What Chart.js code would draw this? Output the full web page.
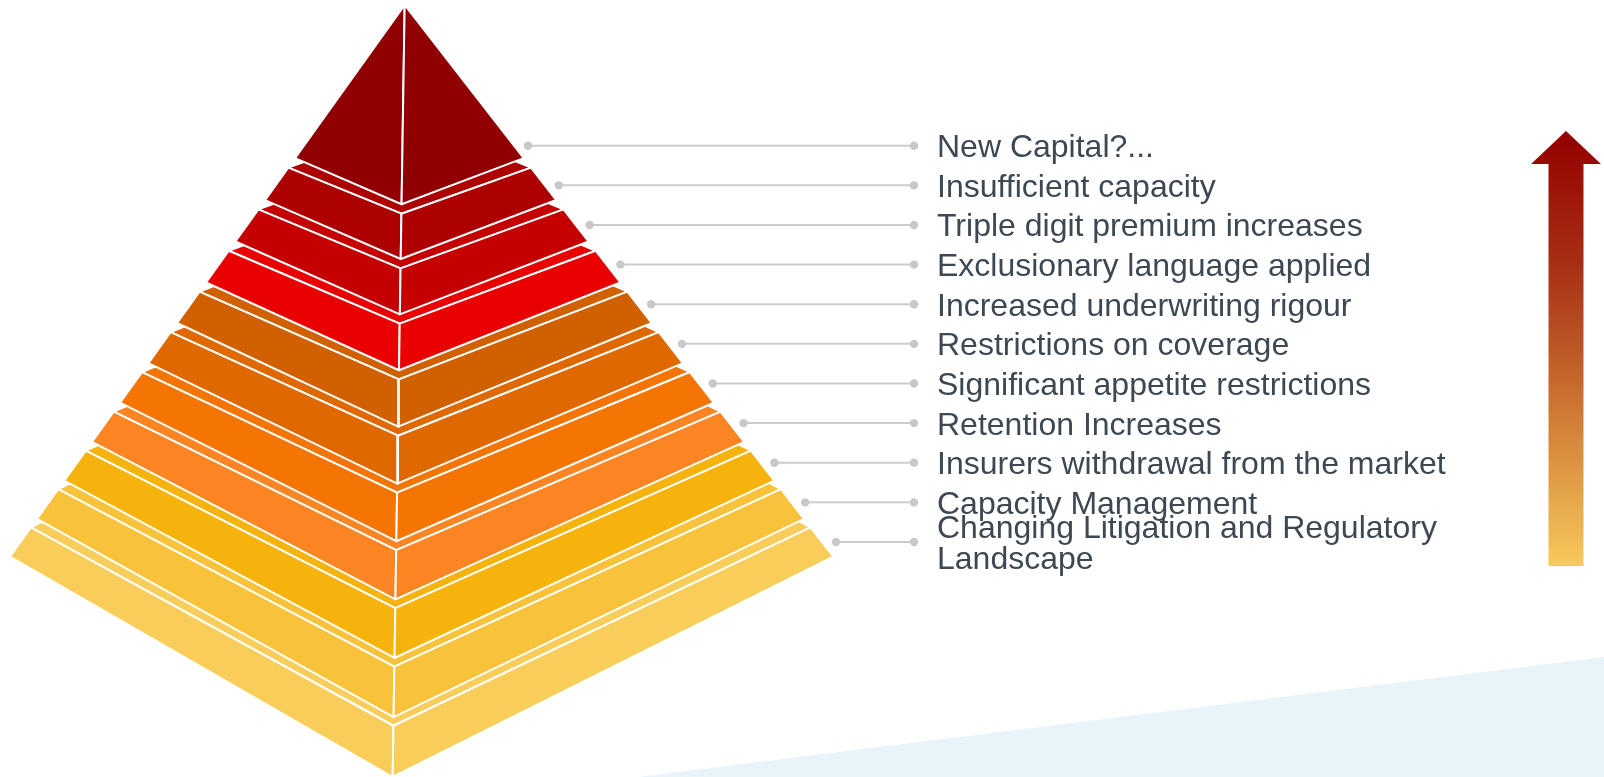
<!DOCTYPE html>
<html>
<head>
<meta charset="utf-8">
<script src="https://cdn.jsdelivr.net/npm/chart.js@4.4.1/dist/chart.umd.min.js"></script>
<style>
  html, body { margin: 0; padding: 0; background: #ffffff; }
  #wrap { position: relative; width: 1604px; height: 777px; }
</style>
</head>
<body>
<div id="wrap"><canvas id="pyramid"></canvas></div>
<script>
// Market pressure tiers, listed from the tip of the pyramid down to its base
const tierLabels = [
  'New Capital?...',
  'Insufficient capacity',
  'Triple digit premium increases',
  'Exclusionary language applied',
  'Increased underwriting rigour',
  'Restrictions on coverage',
  'Significant appetite restrictions',
  'Retention Increases',
  'Insurers withdrawal from the market',
  'Capacity Management',
  'Changing Litigation and Regulatory Landscape'
];

// Height of each tier along the pyramid (tip tier is the tall cap)
const tierHeights = [4.6, 1, 1, 1, 1, 1, 1, 1, 1, 1, 1];

const tierColors = [
  '#900000', '#ad0000', '#c50000', '#e90000',
  '#d16100', '#e06800', '#f47404', '#fb8522',
  '#f5b30c', '#f8c23a', '#f9cd5a'
];

// ---- 3D view of the square pyramid (turned 45 degrees, seen from above) ----
const tierGap = 0.29;        // separation between tiers, reveals each tier's top face
const perspA = 1.0926;       // vertical foreshortening of the side corners
const perspB = 0.00444;
const slopeRight = 0.777;    // run of the right ridge per unit of drop
const slopeLeft = 0.7156;    // run of the left ridge per unit of drop
const tiltBase = 0.2474;     // how far the front corner drops below the side corners
const tiltGrowth = 0.01635;  // the drop grows toward the base
const frontDrift = 0.01554;  // slight turn of the front ridge

function cornerY(level) { return level * (perspA - perspB * level); }
function frontDrop(face) { return face * (tiltBase + tiltGrowth * face); }
function leftPoint(level) { const y = cornerY(level); return { x: -slopeLeft * y, y: y }; }
function rightPoint(level) { const y = cornerY(level); return { x: slopeRight * y, y: y }; }
function frontPoint(level, face) {
  const y = cornerY(level) + frontDrop(face);
  return { x: -frontDrift * y, y: y };
}

// stack the tiers
const tiers = [];
let levelCursor = 0, faceCursor = 0;
tierHeights.forEach(h => {
  tiers.push({ top: levelCursor, bot: levelCursor + h, fTop: faceCursor, fBot: faceCursor + h });
  levelCursor += h + tierGap;
  faceCursor += h;
});
const base = tiers[tiers.length - 1];
const baseFront = frontPoint(base.bot, base.fBot);

// each face becomes its own closed outline
function faceSet(points, color, order) {
  return {
    data: points,
    showLine: true,
    fill: false,
    backgroundColor: color,
    borderColor: '#ffffff',
    borderWidth: 2,
    borderJoinStyle: 'round',
    pointRadius: 0,
    pointHoverRadius: 0,
    tension: 0,
    order: order,
    clip: false
  };
}

const datasets = [];
tiers.forEach((t, i) => {
  const color = tierColors[i];
  const lt = leftPoint(t.top), rt = rightPoint(t.top), ft = frontPoint(t.top, t.fTop);
  const lb = leftPoint(t.bot), rb = rightPoint(t.bot), fb = frontPoint(t.bot, t.fBot);
  if (t.top > 0) {
    const back = { x: lt.x + rt.x - ft.x, y: 2 * lt.y - ft.y };
    datasets.push(faceSet([lt, ft, rt, back, lt], color, i * 3 + 2));
  }
  datasets.push(faceSet([lt, ft, fb, lb, lt], color, i * 3 + 1));
  datasets.push(faceSet([ft, rt, rb, fb, ft], color, i * 3));
});

// axis ranges: equal units on both axes
const W = 1604, H = 777;
const yMin = -0.16, yMax = baseFront.y;
const xMin = leftPoint(base.bot).x - 0.32;
const xMax = xMin + (W / H) * (yMax - yMin);

// label column: rows evenly spread from the cap tier down to the base tier
const rowTop = cornerY(tiers[0].bot - 0.38);
const rowBottom = cornerY(base.bot - 0.5);
const connectorEnd = 16.4;   // where the leader lines stop (x units)
const labelFont = '32px "Liberation Sans", Arial, sans-serif';
const labelMaxWidth = 540;

// fills every face polygon under its white outline
const faceFill = {
  id: 'faceFill',
  beforeDatasetDraw(chart, args) {
    const pts = args.meta.data;
    const ds = chart.data.datasets[args.index];
    const ctx = chart.ctx;
    ctx.save();
    ctx.beginPath();
    pts.forEach((p, j) => (j ? ctx.lineTo(p.x, p.y) : ctx.moveTo(p.x, p.y)));
    ctx.closePath();
    ctx.fillStyle = ds.backgroundColor;
    ctx.fill();
    ctx.restore();
  }
};

// pale backdrop band and the rising arrow
const backdrop = {
  id: 'backdrop',
  beforeDraw(chart) {
    const { ctx, width, height } = chart;
    ctx.save();
    ctx.fillStyle = '#e8f4fa';
    ctx.beginPath();
    ctx.moveTo(width * 0.398, height);
    ctx.lineTo(width, height * 0.8456);
    ctx.lineTo(width, height);
    ctx.closePath();
    ctx.fill();

    const cx = 1566, tipY = 131, headY = 164, headHalf = 35, shaftHalf = 17.5, bottomY = 566;
    const g = ctx.createLinearGradient(0, tipY, 0, bottomY);
    g.addColorStop(0, '#940000');
    g.addColorStop(0.3, '#a62e14');
    g.addColorStop(0.5, '#bd5726');
    g.addColorStop(0.72, '#d78a3c');
    g.addColorStop(1, '#f7c95c');
    ctx.fillStyle = g;
    ctx.beginPath();
    ctx.moveTo(cx, tipY);
    ctx.lineTo(cx + headHalf, headY);
    ctx.lineTo(cx + shaftHalf, headY);
    ctx.lineTo(cx + shaftHalf, bottomY);
    ctx.lineTo(cx - shaftHalf, bottomY);
    ctx.lineTo(cx - shaftHalf, headY);
    ctx.lineTo(cx - headHalf, headY);
    ctx.closePath();
    ctx.fill();
    ctx.restore();
  }
};

function wrapText(ctx, text, maxWidth) {
  const words = text.split(' ');
  const lines = [];
  let line = '';
  words.forEach(w => {
    const test = line ? line + ' ' + w : w;
    if (line && ctx.measureText(test).width > maxWidth) { lines.push(line); line = w; }
    else line = test;
  });
  if (line) lines.push(line);
  return lines;
}

// leader lines and tier names
const tierNames = {
  id: 'tierNames',
  afterDatasetsDraw(chart) {
    const ctx = chart.ctx;
    const xs = chart.scales.x, ys = chart.scales.y;
    const n = tiers.length;
    ctx.save();
    ctx.font = labelFont;
    tiers.forEach((t, i) => {
      const rowY = rowTop + (rowBottom - rowTop) * i / (n - 1);
      const y = ys.getPixelForValue(rowY);
      const x0 = xs.getPixelForValue(slopeRight * rowY) + 14;
      const x1 = xs.getPixelForValue(connectorEnd);
      ctx.strokeStyle = '#cccccc';
      ctx.lineWidth = 2;
      ctx.beginPath();
      ctx.moveTo(x0, y);
      ctx.lineTo(x1, y);
      ctx.stroke();
      ctx.fillStyle = '#c8c8c8';
      [x0, x1].forEach(x => { ctx.beginPath(); ctx.arc(x, y, 4.2, 0, Math.PI * 2); ctx.fill(); });

      const lines = wrapText(ctx, tierLabels[i], labelMaxWidth);
      const lh = 31;
      ctx.fillStyle = '#3d4852';
      ctx.textAlign = 'left';
      ctx.textBaseline = 'alphabetic';
      lines.forEach((ln, k) => {
        const cy = y + (k - (lines.length - 1) / 2) * lh;
        ctx.fillText(ln, x1 + 23, cy + 11.4);
      });
    });
    ctx.restore();
  }
};

new Chart(document.getElementById('pyramid'), {
  type: 'scatter',
  data: { datasets: datasets },
  options: {
    responsive: true,
    maintainAspectRatio: false,
    animation: false,
    events: [],
    layout: { padding: 0 },
    plugins: { legend: { display: false }, tooltip: { enabled: false } },
    scales: {
      x: { type: 'linear', min: xMin, max: xMax, display: false },
      y: { type: 'linear', min: yMin, max: yMax, reverse: true, display: false }
    }
  },
  plugins: [backdrop, faceFill, tierNames]
});
</script>
</body>
</html>
